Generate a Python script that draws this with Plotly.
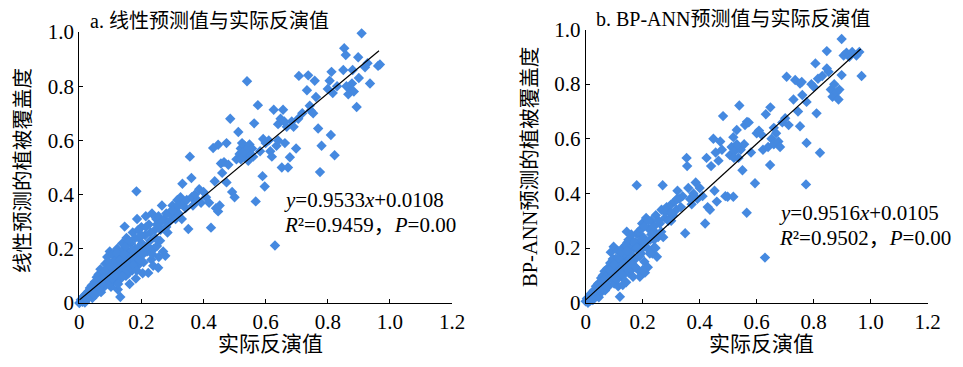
import plotly.graph_objects as go

# ---------------- data ----------------
x_ticks = [0, 0.2, 0.4, 0.6, 0.8, 1.0, 1.2]
x_tick_text = ["0", "0.2", "0.4", "0.6", "0.8", "1.0", "1.2"]
y_ticks = [0, 0.2, 0.4, 0.6, 0.8, 1.0]
y_tick_text = ["0", "0.2", "0.4", "0.6", "0.8", "1.0"]

# panel a: actual inversion value vs linear prediction
actual_a = [
    0.000, 0.005, 0.010, 0.012, 0.018, 0.020, 0.022, 0.028, 0.030, 0.034,
    0.036, 0.040, 0.042, 0.046, 0.050, 0.052, 0.056, 0.058, 0.062, 0.064,
    0.068, 0.070, 0.074, 0.078, 0.080, 0.084, 0.088, 0.090, 0.094, 0.098,
    0.100, 0.102, 0.106, 0.110, 0.112, 0.116, 0.120, 0.122, 0.124, 0.127,
    0.132, 0.132, 0.134, 0.138, 0.140, 0.143, 0.146, 0.148, 0.150, 0.152,
    0.156, 0.160, 0.162, 0.166, 0.170, 0.172, 0.176, 0.180, 0.182, 0.186,
    0.184, 0.190, 0.192, 0.196, 0.200, 0.202, 0.204, 0.207, 0.212, 0.214,
    0.218, 0.222, 0.224, 0.228, 0.232, 0.234, 0.238, 0.240, 0.244, 0.248,
    0.250, 0.254, 0.256, 0.262, 0.266, 0.270, 0.274, 0.277, 0.280, 0.284,
    0.290, 0.296, 0.300, 0.304, 0.310, 0.316, 0.320, 0.326, 0.330, 0.332,
    0.336, 0.342, 0.346, 0.351, 0.356, 0.361, 0.362, 0.366, 0.372, 0.380,
    0.386, 0.392, 0.400, 0.408, 0.418, 0.424, 0.431, 0.436, 0.440, 0.447,
    0.447, 0.452, 0.456, 0.460, 0.466, 0.474, 0.474, 0.480, 0.486, 0.492,
    0.500, 0.506, 0.512, 0.516, 0.520, 0.524, 0.528, 0.532, 0.540, 0.540,
    0.544, 0.548, 0.552, 0.556, 0.563, 0.568, 0.575, 0.582, 0.590, 0.597,
    0.592, 0.600, 0.610, 0.615, 0.620, 0.626, 0.630, 0.635, 0.640, 0.648,
    0.652, 0.656, 0.662, 0.668, 0.672, 0.678, 0.684, 0.690, 0.698, 0.705,
    0.707, 0.718, 0.733, 0.737, 0.742, 0.745, 0.753, 0.758, 0.762, 0.769,
    0.775, 0.780, 0.800, 0.806, 0.810, 0.812, 0.816, 0.822, 0.830, 0.850,
    0.853, 0.858, 0.866, 0.872, 0.878, 0.884, 0.893, 0.898, 0.900, 0.909,
    0.920, 0.928, 0.936, 0.962, 0.968, 0.070, 0.085, 0.095, 0.105, 0.115,
    0.125, 0.135, 0.145, 0.155, 0.165, 0.175, 0.185, 0.195, 0.108, 0.128,
    0.158, 0.168, 0.138, 0.118, 0.060, 0.044, 0.210, 0.260, 0.290, 0.310,
    0.536, 0.526, 0.520, 0.560, 0.640, 0.660, 0.880, 0.860,
    0.015, 0.025, 0.035, 0.045, 0.055, 0.065, 0.075, 0.085, 0.095, 0.100,
    0.105, 0.115, 0.120, 0.125, 0.130, 0.140, 0.145, 0.150, 0.155, 0.160,
    0.165, 0.170, 0.175, 0.180, 0.185, 0.190, 0.195, 0.200, 0.205, 0.215,
    0.220, 0.230, 0.235, 0.245, 0.250, 0.255, 0.265, 0.280, 0.300, 0.320,
]
pred_a = [
    0.000, 0.012, 0.004, 0.022, 0.002, 0.032, 0.012, 0.042, 0.020, 0.055,
    0.030, 0.065, 0.018, 0.048, 0.078, 0.030, 0.095, 0.055, 0.105, 0.070,
    0.125, 0.040, 0.090, 0.115, 0.060, 0.145, 0.080, 0.170, 0.120, 0.190,
    0.100, 0.060, 0.150, 0.130, 0.082, 0.172, 0.110, 0.200, 0.050, 0.150,
    0.022, 0.182, 0.090, 0.220, 0.120, 0.160, 0.282, 0.200, 0.100, 0.240,
    0.140, 0.180, 0.070, 0.220, 0.120, 0.260, 0.160, 0.200, 0.090, 0.310,
    0.412, 0.140, 0.240, 0.180, 0.280, 0.220, 0.110, 0.150, 0.250, 0.320,
    0.190, 0.111, 0.290, 0.230, 0.160, 0.330, 0.137, 0.200, 0.270, 0.310,
    0.210, 0.130, 0.170, 0.270, 0.360, 0.190, 0.310, 0.174, 0.330, 0.260,
    0.300, 0.340, 0.360, 0.320, 0.350, 0.380, 0.330, 0.390, 0.310, 0.440,
    0.370, 0.350, 0.380, 0.273, 0.540, 0.461, 0.390, 0.360, 0.400, 0.380,
    0.420, 0.370, 0.410, 0.390, 0.370, 0.278, 0.572, 0.449, 0.350, 0.338,
    0.584, 0.360, 0.515, 0.480, 0.520, 0.445, 0.590, 0.510, 0.680, 0.410,
    0.390, 0.530, 0.631, 0.550, 0.570, 0.590, 0.540, 0.580, 0.818, 0.560,
    0.525, 0.585, 0.550, 0.570, 0.663, 0.375, 0.730, 0.560, 0.468, 0.430,
    0.605, 0.590, 0.600, 0.560, 0.540, 0.713, 0.212, 0.580, 0.660, 0.680,
    0.500, 0.713, 0.590, 0.650, 0.500, 0.538, 0.670, 0.650, 0.570, 0.680,
    0.838, 0.700, 0.785, 0.840, 0.728, 0.710, 0.700, 0.820, 0.760, 0.644,
    0.483, 0.580, 0.790, 0.820, 0.620, 0.853, 0.775, 0.545, 0.800, 0.860,
    0.940, 0.915, 0.770, 0.790, 0.810, 0.780, 0.723, 0.907, 0.830, 0.995,
    0.870, 0.885, 0.810, 0.875, 0.880, 0.085, 0.100, 0.070, 0.115, 0.140,
    0.125, 0.145, 0.135, 0.165, 0.150, 0.190, 0.170, 0.210, 0.180, 0.100,
    0.110, 0.195, 0.190, 0.160, 0.080, 0.060, 0.200, 0.230, 0.330, 0.310,
    0.565, 0.555, 0.530, 0.540, 0.600, 0.670, 0.860, 0.800,
    0.025, 0.015, 0.045, 0.035, 0.065, 0.055, 0.070, 0.120, 0.150, 0.135,
    0.090, 0.100, 0.185, 0.070, 0.160, 0.100, 0.180, 0.210, 0.120, 0.230,
    0.130, 0.170, 0.140, 0.240, 0.120, 0.270, 0.160, 0.250, 0.180, 0.280,
    0.210, 0.260, 0.180, 0.240, 0.290, 0.320, 0.300, 0.280, 0.340, 0.360,
]

# panel b: actual inversion value vs BP-ANN prediction
actual_b = [
    0.000, 0.004, 0.008, 0.012, 0.016, 0.020, 0.024, 0.028, 0.032, 0.036,
    0.040, 0.044, 0.046, 0.050, 0.054, 0.056, 0.060, 0.062, 0.066, 0.068,
    0.072, 0.076, 0.080, 0.082, 0.086, 0.088, 0.090, 0.094, 0.098, 0.100,
    0.104, 0.108, 0.112, 0.114, 0.118, 0.120, 0.122, 0.126, 0.130, 0.134,
    0.138, 0.142, 0.144, 0.146, 0.150, 0.154, 0.158, 0.162, 0.166, 0.170,
    0.174, 0.179, 0.180, 0.184, 0.188, 0.190, 0.194, 0.198, 0.202, 0.206,
    0.208, 0.212, 0.216, 0.218, 0.222, 0.226, 0.230, 0.234, 0.238, 0.242,
    0.246, 0.250, 0.254, 0.260, 0.266, 0.270, 0.272, 0.278, 0.284, 0.290,
    0.296, 0.300, 0.306, 0.312, 0.318, 0.322, 0.328, 0.334, 0.340, 0.349,
    0.354, 0.356, 0.360, 0.366, 0.372, 0.378, 0.386, 0.392, 0.400, 0.410,
    0.419, 0.424, 0.428, 0.436, 0.440, 0.448, 0.452, 0.456, 0.460, 0.466,
    0.472, 0.478, 0.482, 0.490, 0.498, 0.506, 0.512, 0.518, 0.518, 0.524,
    0.530, 0.536, 0.539, 0.544, 0.550, 0.556, 0.559, 0.565, 0.566, 0.572,
    0.580, 0.594, 0.600, 0.608, 0.618, 0.622, 0.629, 0.632, 0.640, 0.647,
    0.648, 0.652, 0.660, 0.668, 0.676, 0.682, 0.690, 0.700, 0.705, 0.712,
    0.729, 0.735, 0.745, 0.752, 0.752, 0.758, 0.760, 0.773, 0.775, 0.775,
    0.792, 0.800, 0.806, 0.810, 0.815, 0.822, 0.830, 0.846, 0.846, 0.852,
    0.860, 0.866, 0.872, 0.880, 0.887, 0.898, 0.898, 0.905, 0.915, 0.925,
    0.935, 0.950, 0.960, 0.968, 0.070, 0.080, 0.095, 0.105, 0.115, 0.125,
    0.135, 0.145, 0.155, 0.165, 0.175, 0.185, 0.195, 0.110, 0.130, 0.160,
    0.200, 0.064, 0.048, 0.140, 0.240, 0.300, 0.520, 0.530, 0.660, 0.890,
    0.015, 0.025, 0.035, 0.045, 0.055, 0.065, 0.075, 0.085, 0.095, 0.100,
    0.105, 0.115, 0.120, 0.125, 0.130, 0.140, 0.145, 0.150, 0.155, 0.160,
    0.165, 0.170, 0.175, 0.180, 0.185, 0.190, 0.195, 0.200, 0.205, 0.210,
    0.220, 0.225, 0.230, 0.240, 0.245, 0.255, 0.265, 0.280, 0.300, 0.320,
]
pred_b = [
    0.005, 0.015, 0.000, 0.020, 0.008, 0.030, 0.015, 0.045, 0.025, 0.060,
    0.035, 0.070, 0.020, 0.055, 0.090, 0.040, 0.100, 0.065, 0.115, 0.045,
    0.080, 0.125, 0.060, 0.105, 0.145, 0.185, 0.090, 0.130, 0.205, 0.070,
    0.160, 0.110, 0.190, 0.060, 0.140, 0.022, 0.170, 0.095, 0.200, 0.125,
    0.155, 0.075, 0.260, 0.220, 0.110, 0.180, 0.140, 0.230, 0.095, 0.200,
    0.160, 0.430, 0.250, 0.120, 0.210, 0.095, 0.180, 0.290, 0.240, 0.150,
    0.110, 0.310, 0.200, 0.130, 0.270, 0.230, 0.300, 0.180, 0.200, 0.260,
    0.320, 0.168, 0.240, 0.290, 0.340, 0.430, 0.240, 0.310, 0.350, 0.300,
    0.330, 0.360, 0.320, 0.370, 0.340, 0.410, 0.380, 0.350, 0.390, 0.254,
    0.530, 0.500, 0.420, 0.380, 0.360, 0.400, 0.440, 0.380, 0.420, 0.390,
    0.290, 0.530, 0.350, 0.340, 0.500, 0.600, 0.410, 0.550, 0.370, 0.520,
    0.590, 0.560, 0.683, 0.390, 0.388, 0.540, 0.570, 0.606, 0.388, 0.555,
    0.632, 0.530, 0.722, 0.560, 0.485, 0.580, 0.650, 0.329, 0.662, 0.660,
    0.550, 0.437, 0.620, 0.630, 0.614, 0.560, 0.165, 0.690, 0.570, 0.504,
    0.715, 0.600, 0.580, 0.620, 0.590, 0.570, 0.660, 0.675, 0.827, 0.650,
    0.744, 0.815, 0.700, 0.646, 0.802, 0.808, 0.760, 0.433, 0.735, 0.585,
    0.800, 0.790, 0.876, 0.693, 0.820, 0.549, 0.830, 0.921, 0.857, 0.845,
    0.780, 0.754, 0.800, 0.770, 0.744, 0.965, 0.833, 0.905, 0.915, 0.900,
    0.918, 0.905, 0.918, 0.830, 0.095, 0.085, 0.110, 0.130, 0.115, 0.150,
    0.175, 0.150, 0.200, 0.170, 0.220, 0.190, 0.230, 0.085, 0.065, 0.120,
    0.200, 0.055, 0.045, 0.210, 0.230, 0.300, 0.530, 0.580, 0.640, 0.780,
    0.030, 0.010, 0.045, 0.050, 0.075, 0.085, 0.060, 0.120, 0.160, 0.140,
    0.090, 0.165, 0.120, 0.185, 0.100, 0.130, 0.190, 0.230, 0.160, 0.250,
    0.140, 0.220, 0.130, 0.200, 0.260, 0.170, 0.270, 0.120, 0.280, 0.220,
    0.300, 0.180, 0.250, 0.280, 0.200, 0.300, 0.260, 0.330, 0.330, 0.380,
]

# fitted regression lines (slope, intercept) and the x extent of the drawn line
fit_a = [0.9533, 0.0108]
fit_b = [0.9516, 0.0105]
fit_x = [0.0, 0.965]

# ---------------- figure ----------------
# the page body has an 8px margin, so the figure is drawn 8px smaller and
# all target screen positions are shifted by that offset
OFF = 8
W, H = 963 - OFF, 367 - OFF
blue = "#4589E0"
font_fam = "Liberation Serif, Times New Roman, Noto Sans CJK SC, serif"

fig = go.Figure()

def add_panel(xs, ys, fit, xa, ya):
    fig.add_trace(go.Scatter(
        x=xs, y=ys, mode="markers", xaxis=xa, yaxis=ya,
        marker=dict(symbol="diamond", size=8, color=blue, line=dict(width=0)),
        cliponaxis=False, showlegend=False, hoverinfo="skip"))
    fig.add_trace(go.Scatter(
        x=fit_x, y=[fit[0] * v + fit[1] for v in fit_x], mode="lines",
        xaxis=xa, yaxis=ya, line=dict(color="black", width=1.2),
        cliponaxis=False, showlegend=False, hoverinfo="skip"))

add_panel(actual_a, pred_a, fit_a, "x", "y")
add_panel(actual_b, pred_b, fit_b, "x2", "y2")

def px_x(p):
    return (p - OFF) / W

def px_y(p):
    return 1 - (p - OFF) / H

axis_common = dict(
    showline=True, linecolor="black", linewidth=1, mirror=False,
    ticks="inside", ticklen=4, tickwidth=1, tickcolor="black",
    showgrid=False, zeroline=False, automargin=False,
    tickfont=dict(size=21, color="black", family=font_fam),
)

fig.update_layout(
    width=W, height=H,
    margin=dict(l=0, r=0, t=0, b=0, autoexpand=False),
    paper_bgcolor="white", plot_bgcolor="white",
    font=dict(family=font_fam, color="black"),
    xaxis=dict(domain=[px_x(79.3), px_x(452)], range=[0, 1.2], tickvals=x_ticks,
               ticktext=x_tick_text, anchor="y", **axis_common),
    yaxis=dict(domain=[px_y(303), px_y(32)], range=[0, 1.0], tickvals=y_ticks,
               ticktext=y_tick_text, anchor="x", **axis_common),
    xaxis2=dict(domain=[px_x(585.7), px_x(927.7)], range=[0, 1.2], tickvals=x_ticks,
                ticktext=x_tick_text, anchor="y2", **axis_common),
    yaxis2=dict(domain=[px_y(302.7), px_y(29.5)], range=[0, 1.0], tickvals=y_ticks,
                ticktext=y_tick_text, anchor="x2", **axis_common),
)

def ann(text, x, y, size=21, xanchor="left", angle=0):
    fig.add_annotation(text=text, x=px_x(x), y=px_y(y), xref="paper", yref="paper",
                       xanchor=xanchor, yanchor="middle", showarrow=False,
                       textangle=angle, font=dict(size=size, color="black", family=font_fam))

ann("a. 线性预测值与实际反演值", 88, 21, size=20)
ann("b. BP-ANN预测值与实际反演值", 594, 19, size=20)
ann("<i>y</i>=0.9533<i>x</i>+0.0108", 282, 200)
ann("<i>R</i>²=0.9459，<i>P</i>=0.00", 282, 225)
ann("<i>y</i>=0.9516<i>x</i>+0.0105", 777, 213)
ann("<i>R</i>²=0.9502，<i>P</i>=0.00", 777, 238)
ann("实际反演值", 270, 344, xanchor="center")
ann("实际反演值", 761, 344, xanchor="center")
ann("线性预测的植被覆盖度", 23, 171, xanchor="center", angle=-90, size=20.5)
ann("BP-ANN预测的植被覆盖度", 530, 167, xanchor="center", angle=-90, size=20.5)

fig.write_html("out.html")
